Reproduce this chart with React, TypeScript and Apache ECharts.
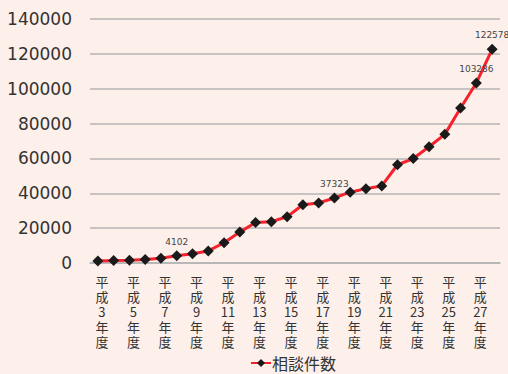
import React, { useEffect, useRef } from "react";
import * as echarts from "echarts";

const categories: string[] = [
  "平成3年度", "平成4年度", "平成5年度", "平成6年度", "平成7年度", "平成8年度",
  "平成9年度", "平成10年度", "平成11年度", "平成12年度", "平成13年度", "平成14年度",
  "平成15年度", "平成16年度", "平成17年度", "平成18年度", "平成19年度", "平成20年度",
  "平成21年度", "平成22年度", "平成23年度", "平成24年度", "平成25年度", "平成26年度",
  "平成27年度", "平成28年度",
];
const consultations: number[] = [
  1171, 1372, 1611, 1961, 2722, 4102, 5352, 6932, 11631, 17725, 23274, 23738,
  26569, 33408, 34472, 37323, 40639, 42664, 44211, 56384, 59919, 66701, 73802,
  88931, 103286, 122578,
];
const labeledCategories: string[] = ["平成8年度", "平成18年度", "平成27年度", "平成28年度"];
const yTicks: number[] = [0, 20000, 40000, 60000, 80000, 100000, 120000, 140000];
const seriesName = "相談件数";

function stackLabel(s: string): string {
  const m = s.match(/^(平)(成)(\d+)(年)(度)$/);
  if (!m) return s;
  return [m[1], m[2], m[3], m[4], m[5]].join("\n");
}

export default function App() {
  const ref = useRef<HTMLDivElement>(null);
  useEffect(() => {
    if (!ref.current) return;
    const chart = echarts.init(ref.current, undefined, { renderer: "svg" });
    const data = consultations.map((v, i) => ({
      value: v,
      label: { show: labeledCategories.includes(categories[i]) },
    }));
    chart.setOption({
      animation: false,
      backgroundColor: "#fdf0ea",
      textStyle: { fontFamily: "DejaVu Sans, Noto Sans CJK JP" },
      grid: { left: 90, right: 8, top: 19, bottom: 111 },
      legend: {
        top: 354,
        left: 250,
        itemWidth: 20,
        itemHeight: 10,
        itemGap: 0,
        padding: 0,
        textStyle: {
          fontSize: 16,
          lineHeight: 18,
          color: "#333",
          fontFamily: "Noto Sans CJK JP",
          padding: [0, 0, 0, -4],
        },
        data: [seriesName],
      },
      xAxis: {
        type: "category",
        data: categories,
        boundaryGap: true,
        axisLine: { show: true, lineStyle: { color: "#b5b5b5", width: 1.5 } },
        axisTick: { show: false },
        axisLabel: {
          interval: 1,
          margin: 11,
          color: "#333",
          fontSize: 13,
          lineHeight: 15,
          padding: [0, 0, 0, 8],
          fontFamily: "Noto Sans CJK JP",
          formatter: (v: string) => stackLabel(v),
        },
      },
      yAxis: {
        type: "value",
        min: yTicks[0],
        max: yTicks[yTicks.length - 1],
        interval: yTicks[1] - yTicks[0],
        axisLine: { show: false },
        axisTick: { show: false },
        axisLabel: {
          color: "#333",
          fontSize: 17,
          margin: 18,
          fontFamily: "DejaVu Sans",
          formatter: (v: number) => String(v),
        },
        splitLine: { lineStyle: { color: "#b5b5b5", width: 1.5 } },
      },
      series: [
        {
          name: seriesName,
          type: "line",
          data,
          showAllSymbol: true,
          symbol: "diamond",
          symbolSize: 11,
          itemStyle: { color: "#1a1a1a" },
          lineStyle: { color: "#f5222d", width: 3 },
          label: {
            position: "top",
            distance: 4,
            fontSize: 9,
            color: "#444",
            fontFamily: "DejaVu Sans",
          },
        },
      ],
    });
    return () => chart.dispose();
  }, []);
  return (
    <div
      ref={ref}
      style={{ position: "fixed", left: 0, top: 0, width: 508, height: 374 }}
    />
  );
}
